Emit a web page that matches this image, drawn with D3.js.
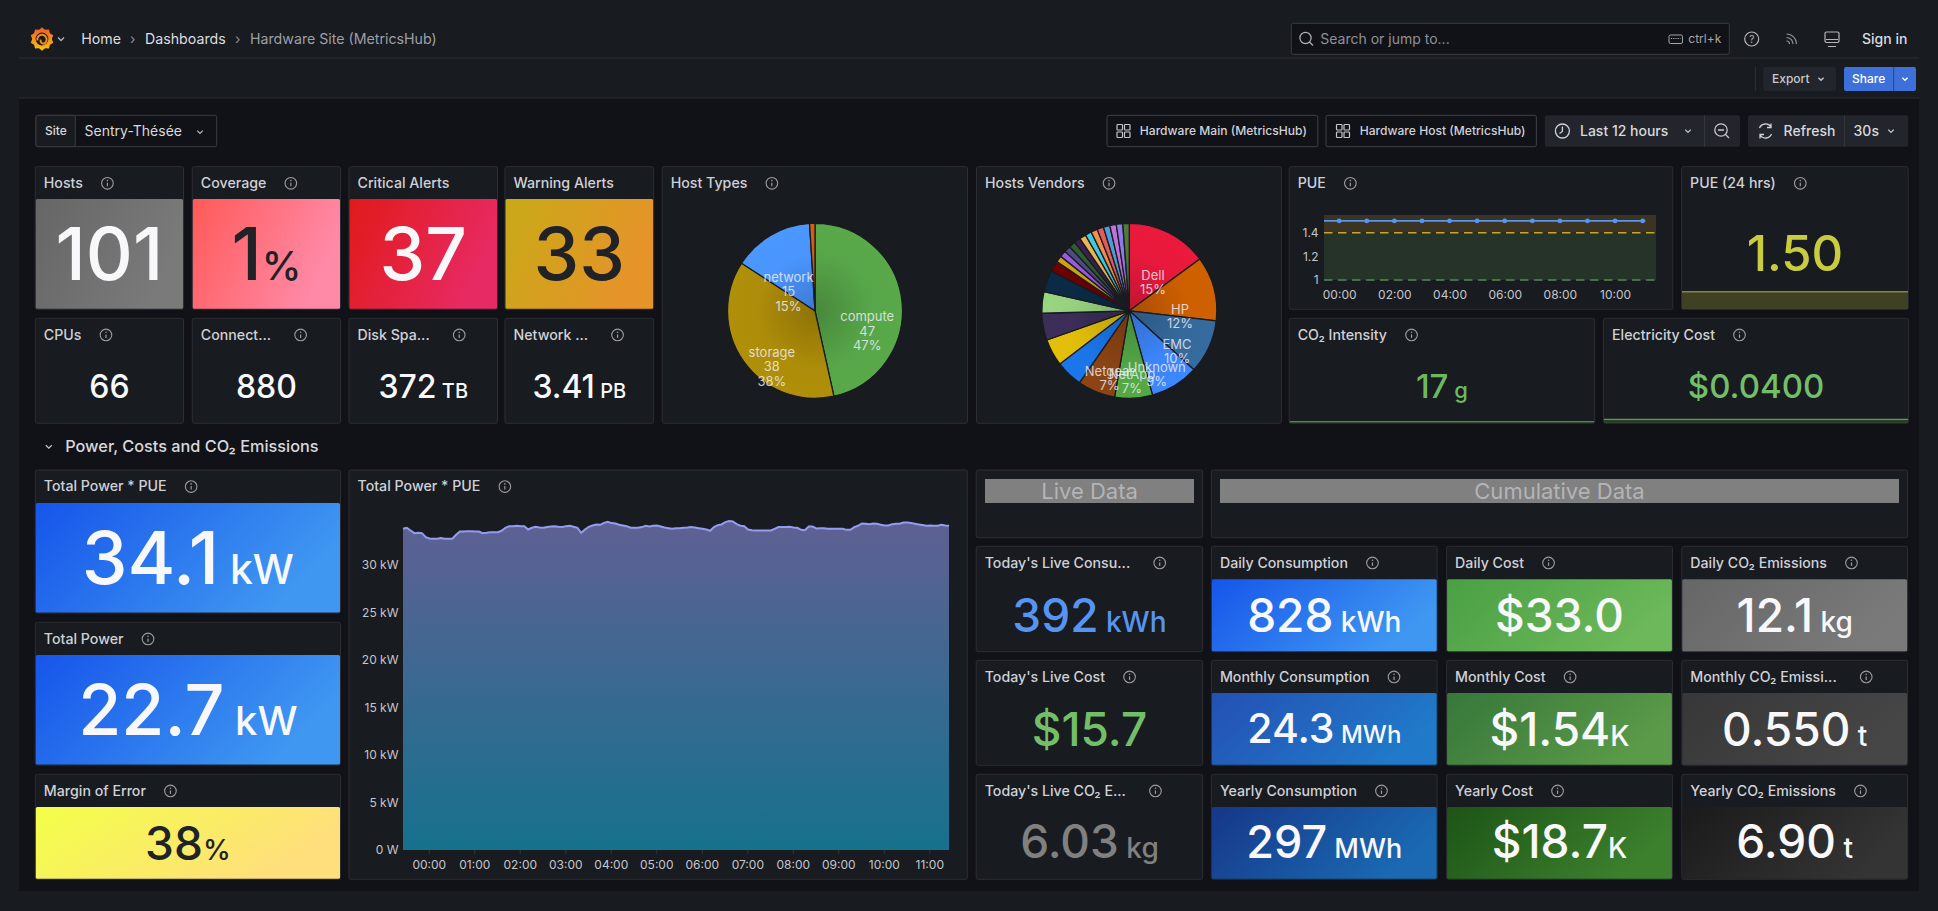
<!DOCTYPE html>
<html><head><meta charset="utf-8"><title>Hardware Site (MetricsHub)</title>
<script src="https://cdn.jsdelivr.net/npm/d3@7"></script>
<style>
html,body{margin:0;padding:0;background:#181b1f;overflow:hidden}
svg{display:block;font-family:Inter,"Noto Sans",sans-serif}
text{white-space:pre}
</style></head><body>
<div id="chart"></div>
<script>
// ---------- data ----------
const statTitles = ["Hosts","Coverage","Critical Alerts","Warning Alerts",
  "CPUs","Connect...","Disk Spa...","Network ...",
  "PUE (24 hrs)","CO₂ Intensity","Electricity Cost",
  "Total Power * PUE","Total Power","Margin of Error",
  "Today's Live Consu...","Today's Live Cost","Today's Live CO₂ E...",
  "Daily Consumption","Monthly Consumption","Yearly Consumption",
  "Daily Cost","Monthly Cost","Yearly Cost",
  "Daily CO₂ Emissions","Monthly CO₂ Emissi...","Yearly CO₂ Emissions"];
const titlesWithoutInfo = ["Critical Alerts","Warning Alerts"];
const statValues = ["101","1","37","33","66","880","372","3.41","1.50","17","$0.0400",
  "34.1","22.7","38","392","$15.7","6.03","828","24.3","297","$33.0","$1.54","$18.7","12.1","0.550","6.90"];
const statUnits = ["","%","","",""," "," TB"," PB",""," g","",
  " kW"," kW","%"," kWh",""," kg"," kWh"," MWh"," MWh","","K","K"," kg"," t"," t"];
const hostTypeNames = ["compute","storage","network"];
const hostTypeValues = [47,38,15,1];
const vendorNames = ["Dell","HP","EMC","Unknown","NetApp","Netgear"];
const vendorValues = [15,12,10,9,7,7,5,5,5,4,4,2,1.2,1.2,1.2,1.2,1.2,1.2,1.2,1.2,1.2,1.2,1.2,1.2,1.2];
const powerKw = [33.82,33.93,33.64,33.36,33.40,33.36,32.94,32.80,32.77,32.77,32.84,32.77,32.77,32.77,33.19,33.54,
  33.54,33.57,33.57,33.54,33.54,33.36,33.40,33.47,33.47,33.47,33.61,33.93,34.10,34.10,34.14,34.10,34.10,33.75,33.93,34.03,
  33.96,33.93,34.00,34.07,34.10,34.03,34.00,34.10,34.14,34.03,33.93,33.40,33.75,34.03,34.17,34.28,34.24,34.45,34.56,34.42,
  34.38,34.24,34.17,34.10,33.93,33.93,33.93,34.00,34.14,34.07,34.14,34.17,34.07,33.96,33.89,33.82,33.89,
  33.89,33.93,33.96,34.00,33.96,33.89,33.82,33.75,33.61,34.00,34.21,34.28,34.52,34.63,34.59,34.31,34.14,34.10,33.75,33.68,
  33.64,33.64,33.64,33.64,33.64,33.82,34.00,34.00,34.00,34.03,33.96,33.93,33.71,33.68,34.07,34.07,33.86,33.89,33.89,33.82,
  33.82,33.82,33.82,33.82,33.71,33.71,34.00,34.14,34.38,34.35,34.31,34.38,34.35,34.24,34.17,34.17,34.31,34.35,34.35,34.49,
  34.49,34.42,34.35,34.28,34.21,34.14,34.17,34.14,34.14,34.24,34.17,34.14];
const powerTicks = [0,5,10,15,20,25,30];
const pueValues = [1.5,1.5,1.5,1.5,1.5,1.5,1.5,1.5,1.5,1.5,1.5,1.5,1.5,1.5];
const pueMinutes = [-33,0,60,120,180,240,300,360,420,480,540,600,660,666];
const pueTicks = [1,1.2,1.4];
const pueThresholds = [1,1.4];
const pue24Spark = [1.5,1.5];
const co2Spark = [17,17,16.9,16.9];
const costSpark = [0.04,0.04];

// ---------- styles and layout (separate from the values) ----------
const W=1938,H=911;
const svg=d3.select("#chart").append("svg").attr("width",W).attr("height",H).attr("viewBox",[0,0,W,H]);
const defs=svg.append("defs");
const PANEL="#181b1f",BORDER="#2c2e33",TXT="#d0d1d8",MUTED="#9b9ca3";
const WHITE="#f8f8fa",DARK="#202226";
const GR={gray:["#666666","#7a7a7a"],cov:["#ff5a58","#ff8aa8"],crit:["#e11a1a","#e72a63"],warn:["#c8aa16","#e6932a"],
 blue:["#1655ea","#3f97f1"],yel:["#f3ff48","#ffde7c"],
 blue2:["#2450b4","#2079c9"],blue3:["#163788","#1a69b2"],
 grn:["#49a043","#6cb85a"],grn2:["#37773a","#5a9a48"],grn3:["#1c5416","#3c802d"],
 gr2:["#373737","#464646"],gr3:["#1a1a1a","#343434"]};
const R1=[166.7,309.3],R2=[318.3,423.3],B1=[470,613],B2=[622.3,765],B3=[774.3,879.3],C1=[546.3,651.7],C2=[660.3,765.3],C3=[774.3,879.3];
const X=[[35.3,183.5],[192.3,340.5],[349,497.5],[505,653.6]];
const LV=[976.2,1202.7],KW=[1211.4,1437.2],CS=[1446.6,1672.4],CO=[1681.8,1907.6],BL=[35.3,340.5];
const statLayout=[
 {x:X[0],y:R1,top:199,g:GR.gray,c:WHITE,s:73,u:40,b:280},
 {x:X[1],y:R1,top:199,g:GR.cov,c:DARK,s:73,u:40,b:280},
 {x:X[2],y:R1,top:199,g:GR.crit,c:WHITE,s:73,u:40,b:280},
 {x:X[3],y:R1,top:199,g:GR.warn,c:DARK,s:73,u:40,b:280},
 {x:X[0],y:R2,c:WHITE,s:32,u:20,b:398.3},
 {x:X[1],y:R2,c:WHITE,s:32,u:20,b:398.3},
 {x:X[2],y:R2,c:WHITE,s:32,u:20,b:398.3},
 {x:X[3],y:R2,c:WHITE,s:32,u:20,b:398.3},
 {x:[1681.6,1908.2],y:R1,c:"#c8cc3e",s:49,u:30,b:270.7},
 {x:[1289.2,1594.7],y:R2,c:"#6cb95f",s:33,u:22,b:397.7},
 {x:[1603.5,1908.6],y:R2,c:"#73bf69",s:33,u:22,b:397.7},
 {x:BL,y:B1,top:503,g:GR.blue,c:WHITE,s:73,u:41,b:584},
 {x:BL,y:B2,top:655,g:GR.blue,c:WHITE,s:70,u:40,b:735},
 {x:BL,y:B3,top:807,g:GR.yel,c:DARK,s:46,u:28,b:860},
 {x:LV,y:C1,c:"#5794f2",s:46,u:28,b:631.7},
 {x:LV,y:C2,c:"#73bf69",s:46,u:28,b:746},
 {x:LV,y:C3,c:"#808080",s:46,u:28,b:858.3},
 {x:KW,y:C1,top:579.3,g:GR.blue,c:WHITE,s:46,u:28,b:631.7},
 {x:KW,y:C2,top:693,g:GR.blue2,c:WHITE,s:41,u:24,b:742.7},
 {x:KW,y:C3,top:807,g:GR.blue3,c:WHITE,s:45,u:27,b:858.3},
 {x:CS,y:C1,top:579.3,g:GR.grn,c:WHITE,s:46,u:28,b:631.7},
 {x:CS,y:C2,top:693,g:GR.grn2,c:WHITE,s:46,u:28,b:746},
 {x:CS,y:C3,top:807,g:GR.grn3,c:WHITE,s:46,u:28,b:858.3},
 {x:CO,y:C1,top:579.3,g:GR.gray,c:WHITE,s:46,u:28,b:631.7},
 {x:CO,y:C2,top:693,g:GR.gr2,c:WHITE,s:46,u:28,b:746},
 {x:CO,y:C3,top:807,g:GR.gr3,c:WHITE,s:46,u:28,b:858.3}
];
function txt(p,x,y,s,o={}){return p.append("text").attr("x",x).attr("y",y-.7).text(s)
  .attr("font-size",o.size||14).attr("font-weight",o.weight||400).attr("fill",o.fill||TXT)
  .attr("text-anchor",o.anchor||"start").attr("dominant-baseline",o.base||"central");}
function panel(x,y,title){
  const g=svg.append("g");
  g.append("rect").attr("x",x[0]).attr("y",y[0]).attr("width",x[1]-x[0]).attr("height",y[1]-y[0]).attr("rx",2)
   .attr("fill",PANEL).attr("stroke",BORDER);
  if(title){const t=txt(g,x[0]+8.5,y[0]+16.6,title,{size:14.2,weight:500,fill:TXT});
    const e=t.node().getComputedTextLength();
    if(!titlesWithoutInfo.includes(title)) infoIcon(g,x[0]+8.5+e+(title.endsWith("...")?29.5:24.5),y[0]+16.6);}
  return g;
}
function infoIcon(g,cx,cy){
  g.append("circle").attr("cx",cx).attr("cy",cy).attr("r",5.8).attr("fill","none").attr("stroke",MUTED).attr("stroke-width",1.1);
  g.append("line").attr("x1",cx).attr("x2",cx).attr("y1",cy-0.5).attr("y2",cy+3).attr("stroke",MUTED).attr("stroke-width",1.2);
  g.append("circle").attr("cx",cx).attr("cy",cy-2.7).attr("r",.8).attr("fill",MUTED);
}
function chev(g,cx,cy,c="#b5b6bc",s=3){
  g.append("path").attr("d",`M${cx-s} ${cy-s/2}L${cx} ${cy+s/2}L${cx+s} ${cy-s/2}`).attr("fill","none").attr("stroke",c).attr("stroke-width",1.3);
}
function gridIcon(g,cx,cy){
  [[-6.5,-6.5],[1,-6.5],[-6.5,1],[1,1]].forEach(d=>g.append("rect").attr("x",cx+d[0]).attr("y",cy+d[1]).attr("width",5.5).attr("height",5.5).attr("rx",.8).attr("fill","none").attr("stroke","#c6c7cd").attr("stroke-width",1.2));
}

// ---------- page chrome ----------
svg.append("rect").attr("width",W).attr("height",H).attr("fill","#181b1f");
svg.append("rect").attr("x",19).attr("y",98).attr("width",1900).attr("height",793).attr("fill","#111217");
[58,98].forEach(y=>svg.append("line").attr("x1",19).attr("x2",1919).attr("y1",y).attr("y2",y).attr("stroke","#2b2d32"));
const bar=svg.append("g");
// logo
(function(){
  const lg=defs.append("linearGradient").attr("id","logo").attr("x1",0).attr("y1",0).attr("x2",0).attr("y2",1);
  lg.append("stop").attr("offset",0).attr("stop-color","#ee5a2a");lg.append("stop").attr("offset",1).attr("stop-color","#fbc60c");
  const g=bar.append("g").attr("transform","translate(42,39)");
  const pts=d3.range(20).map(i=>[i*Math.PI/10,i%2?9.8:11.8]);
  g.append("path").attr("d",d3.lineRadial().curve(d3.curveLinearClosed)(pts)).attr("fill","url(#logo)");
  g.append("circle").attr("r",6.4).attr("fill","#181b1f");
  g.append("path").attr("d","M-4.6 1.6A4.7 4.7 0 1 1 3.9 3A2.7 2.7 0 0 1-1.2 .6").attr("fill","none").attr("stroke","#f38a1c").attr("stroke-width",2);
})();
chev(bar,61,39);
txt(bar,81.2,39,"Home",{size:14.2,fill:"#dcdde2"});
txt(bar,132.6,39,"›",{anchor:"middle",fill:"#8e9097"});
txt(bar,145,39,"Dashboards",{size:14.2,fill:"#dcdde2"});
txt(bar,237.8,39,"›",{anchor:"middle",fill:"#8e9097"});
txt(bar,250,39,"Hardware Site (MetricsHub)",{size:14.2,fill:"#9ea0a7"});
bar.append("rect").attr("x",1291.3).attr("y",23.3).attr("width",438).attr("height",31).attr("rx",2).attr("fill","#111217").attr("stroke","#3a3c41");
bar.append("circle").attr("cx",1305.5).attr("cy",38).attr("r",5.6).attr("fill","none").attr("stroke","#b0b1b7").attr("stroke-width",1.2);
bar.append("line").attr("x1",1309.5).attr("y1",42).attr("x2",1313).attr("y2",45.5).attr("stroke","#b0b1b7").attr("stroke-width",1.2);
txt(bar,1320.3,39,"Search or jump to...",{fill:"#8f9198"});
bar.append("rect").attr("x",1669).attr("y",35).attr("width",13.5).attr("height",8.5).attr("rx",1.5).attr("fill","none").attr("stroke","#a5a6ac");
bar.append("line").attr("x1",1671).attr("x2",1680.5).attr("y1",38.5).attr("y2",38.5).attr("stroke","#a5a6ac").attr("stroke-dasharray","1.2 1");
txt(bar,1688.3,39,"ctrl+k",{size:12,fill:"#a5a6ac"});
bar.append("circle").attr("cx",1751.7).attr("cy",39).attr("r",7).attr("fill","none").attr("stroke","#b5b6bc").attr("stroke-width",1.2);
txt(bar,1751.7,39.5,"?",{size:10,anchor:"middle",fill:"#b5b6bc"});
[3,6.5,10].forEach(r=>bar.append("path").attr("d",`M1786.5 ${45-r}A${r} ${r} 0 0 1 ${1786.5+r} 45`).attr("fill","none").attr("stroke","#8f9096").attr("stroke-width",1.2).attr("transform","translate(0,-1)"));
bar.append("rect").attr("x",1825).attr("y",32).attr("width",14).attr("height",10.5).attr("rx",1.5).attr("fill","none").attr("stroke","#b5b6bc").attr("stroke-width",1.2);
bar.append("path").attr("d","M1828 46.5H1836M1826 39.5H1838").attr("stroke","#b5b6bc").attr("stroke-width",1.2);
txt(bar,1862,39,"Sign in",{weight:500,fill:"#dcdde2"});
bar.append("line").attr("x1",1755.4).attr("x2",1755.4).attr("y1",67).attr("y2",91).attr("stroke","#2f3136");
bar.append("rect").attr("x",1763.4).attr("y",67).attr("width",72.6).attr("height",24).attr("rx",2).attr("fill","#22252b");
txt(bar,1772,79,"Export",{size:12,weight:500,fill:"#c8c9cf"});chev(bar,1821,79,"#c8c9cf",2.6);
bar.append("rect").attr("x",1844).attr("y",67).attr("width",72).attr("height",24).attr("rx",2).attr("fill","#3d71d9");
bar.append("line").attr("x1",1893.7).attr("x2",1893.7).attr("y1",67).attr("y2",91).attr("stroke","#23458c");
txt(bar,1852,79,"Share",{size:12,weight:500,fill:"#fff"});chev(bar,1905,79,"#fff",2.6);
// variable row
const vr=svg.append("g");
vr.append("rect").attr("x",36).attr("y",115.3).attr("width",180.7).attr("height",31.4).attr("rx",2).attr("fill","#111217").attr("stroke","#3a3c41");
vr.append("rect").attr("x",36).attr("y",115.3).attr("width",39.3).attr("height",31.4).attr("rx",2).attr("fill","#181b1f").attr("stroke","#3a3c41");
txt(vr,45,131,"Site",{size:12,weight:500,fill:"#d8d9de"});
txt(vr,84.6,131,"Sentry-Thésée",{fill:"#d8d9de"});chev(vr,200,132,"#b5b6bc",2.8);
[[1107,210.8,1123.5,1139.8,"Hardware Main (MetricsHub)"],[1326,210.4,1343,1359.7,"Hardware Host (MetricsHub)"]].forEach(b=>{
  vr.append("rect").attr("x",b[0]).attr("y",115.3).attr("width",b[1]).attr("height",31.4).attr("rx",2).attr("fill","#111217").attr("stroke","#3f4146");
  gridIcon(vr,b[2],131);txt(vr,b[3],131,b[4],{size:12.1,weight:500,fill:"#d0d1d8"});
});
vr.append("rect").attr("x",1544.8).attr("y",115.3).attr("width",195.2).attr("height",31.4).attr("rx",2).attr("fill","#22252b");
vr.append("line").attr("x1",1704.5).attr("x2",1704.5).attr("y1",115.3).attr("y2",146.7).attr("stroke","#34363b");
vr.append("circle").attr("cx",1562.4).attr("cy",131).attr("r",7).attr("fill","none").attr("stroke","#d0d1d8").attr("stroke-width",1.3);
vr.append("path").attr("d","M1562.4 126.5V131.5L1559.5 133.5").attr("fill","none").attr("stroke","#d0d1d8").attr("stroke-width",1.3);
txt(vr,1580,131,"Last 12 hours",{weight:500,fill:"#d8d9de"});chev(vr,1688,131,"#c8c9cf",2.8);
vr.append("circle").attr("cx",1721).attr("cy",130).attr("r",6.2).attr("fill","none").attr("stroke","#c8c9cf").attr("stroke-width",1.3);
vr.append("path").attr("d","M1718 130H1724M1725.5 134.5L1729 138").attr("stroke","#c8c9cf").attr("stroke-width",1.3);
vr.append("rect").attr("x",1748).attr("y",115.3).attr("width",160.2).attr("height",31.4).attr("rx",2).attr("fill","#22252b");
vr.append("line").attr("x1",1844.4).attr("x2",1844.4).attr("y1",115.3).attr("y2",146.7).attr("stroke","#34363b");
vr.append("path").attr("d","M1759.5 128A6.5 6.5 0 0 1 1771 127M1771.5 134A6.5 6.5 0 0 1 1760 135M1771 123.5V127.5H1767M1760 138.5V134.5H1764").attr("fill","none").attr("stroke","#d0d1d8").attr("stroke-width",1.3);
txt(vr,1783.6,131,"Refresh",{weight:500,fill:"#d8d9de"});
txt(vr,1853.6,131,"30s",{weight:500,fill:"#d8d9de"});chev(vr,1891,131,"#c8c9cf",2.8);
// section row
chev(vr,48.8,446.7,"#c0c1c7",3);
txt(vr,65.2,446.7,"Power, Costs and CO₂ Emissions",{size:16.3,weight:500,fill:"#d8d9de"});

// ---------- stat panels ----------
statTitles.forEach((title,i)=>{
  const L=statLayout[i],g=panel(L.x,L.y,title);
  if(L.g){
    const id="sg"+i,lg=defs.append("linearGradient").attr("id",id).attr("x1",0).attr("y1",0).attr("x2",1).attr("y2",.35);
    lg.append("stop").attr("offset",0).attr("stop-color",L.g[0]);lg.append("stop").attr("offset",1).attr("stop-color",L.g[1]);
    g.append("rect").attr("x",L.x[0]+.5).attr("y",L.top).attr("width",L.x[1]-L.x[0]-1).attr("height",L.y[1]-L.top-.5).attr("rx",1.5).attr("fill",`url(#${id})`);
  }
  const t=g.append("text").attr("x",(L.x[0]+L.x[1])/2).attr("y",L.b).attr("text-anchor","middle").attr("font-weight",500).attr("fill",L.c);
  t.append("tspan").attr("font-size",L.s).text(statValues[i]);
  if(statUnits[i].trim()) t.append("tspan").attr("font-size",L.u).text(statUnits[i]);
});

// sparklines
function spark(vals,x,yLine,yBottom,line,fill){
  const sx=d3.scaleLinear().domain([0,vals.length-1]).range(x);
  const sy=d3.scaleLinear().domain([0,d3.max(vals)]).range([yBottom,yLine]);
  svg.append("path").attr("d",d3.area().x((d,i)=>sx(i)).y0(yBottom).y1(d=>sy(d))(vals)).attr("fill",fill);
  svg.append("path").attr("d",d3.line().x((d,i)=>sx(i)).y(d=>sy(d))(vals)).attr("fill","none").attr("stroke",line).attr("stroke-width",1.4);
}
spark(pue24Spark,[1682,1908],291.7,309,"#87872f","#3f4125");
spark(co2Spark,[1289.7,1594.2],421.6,423,"#4d8e48","#26362a");
spark(costSpark,[1604,1908],419.4,423,"#5f9b50","#2b3f29");

// ---------- pie panels ----------
function pieChart(title,box,center,values,names,colors,prefix,showCount){
  const g=panel(box,[166.7,423.3],title);
  const r=87.5,total=d3.sum(values);
  const arcs=d3.pie().sort(null).value(d=>d)(values);
  const arc=d3.arc().innerRadius(0).outerRadius(r);
  const lab=d3.arc().innerRadius(52.5).outerRadius(52.5);
  const pg=g.append("g").attr("transform",`translate(${center})`);
  arcs.forEach((a,i)=>{
    const id=prefix+i,c=colors[i],rg=defs.append("radialGradient").attr("id",id).attr("gradientUnits","userSpaceOnUse").attr("cx",0).attr("cy",0).attr("r",r);
    rg.append("stop").attr("offset",0).attr("stop-color",d3.color(c).darker(.55));
    rg.append("stop").attr("offset",.65).attr("stop-color",c);
    rg.append("stop").attr("offset",1).attr("stop-color",d3.color(c).brighter(.05));
    pg.append("path").attr("d",arc(a)).attr("fill",`url(#${id})`).attr("stroke",PANEL).attr("stroke-width",1.3);
  });
  arcs.forEach((a,i)=>{
    if(i>=names.length) return;
    const [cx,cy]=lab.centroid(a);
    const lines=showCount?[names[i],String(values[i]),d3.format(".0%")(values[i]/total)]:[names[i],d3.format(".0%")(values[i]/total)];
    lines.forEach((s,k)=>txt(pg,cx,cy+11.9+k*(showCount?14.5:14),s,{size:13,anchor:"middle",fill:"rgba(240,240,245,.82)"}));
  });
}
const hostTypeColors=["#57a649","#ad8c09","#4a95ff","#d85c0c"];
const vendorColors=["#e8193c","#cc5f00","#35699c","#3c85fb","#53a645","#8a4314","#1a75e8","#e0bc0a","#3b2d57","#96d27e","#0a2a45","#6b0000",
 "#c9a012","#9b57e0","#4d4a80","#2e5c2e","#3a1f4d","#e8b34f","#3cc8e0","#f08c4a","#e05a5a","#4f9bd0","#c06fd8","#8f7ae0","#4a7a3a"];
pieChart("Host Types",[662.2,967.5],[815,310.8],hostTypeValues,hostTypeNames,hostTypeColors,"ht",true);
pieChart("Hosts Vendors",[976.5,1281.4],[1129.3,310.8],vendorValues,vendorNames,vendorColors,"hv",false);

// ---------- PUE time series ----------
const t0=new Date(2024,0,2,0,0);
(function(){
  const g=panel([1289.2,1672.8],R1,"PUE");
  const x=d3.scaleTime().domain([d3.timeMinute.offset(t0,-33),d3.timeMinute.offset(t0,689)]).range([1324,1656]);
  const y=d3.scaleLinear().domain([1,1.55]).range([280,215]);
  g.append("rect").attr("x",1324).attr("width",332).attr("y",y(1.55)).attr("height",y(pueThresholds[1])-y(1.55)).attr("fill","#3b3422");
  g.append("rect").attr("x",1324).attr("width",332).attr("y",y(pueThresholds[1])).attr("height",y(pueThresholds[0])-y(pueThresholds[1])).attr("fill","#263328");
  [["#c9a52e",pueThresholds[1]],["#4e8f49",pueThresholds[0]]].forEach(d=>
    g.append("line").attr("x1",1324).attr("x2",1656).attr("y1",y(d[1])).attr("y2",y(d[1])).attr("stroke",d[0]).attr("stroke-width",1.5).attr("stroke-dasharray","8.5 5.5"));
  const pts=pueValues.map((v,i)=>({t:d3.timeMinute.offset(t0,pueMinutes[i]),v}));
  g.append("path").attr("d",d3.line().x(d=>x(d.t)).y(d=>y(d.v))(pts)).attr("fill","none").attr("stroke","#5794f2").attr("stroke-width",1.6);
  g.selectAll("circle.pt").data(pts.filter(d=>d.t.getMinutes()===0)).join("circle").attr("class","pt").attr("cx",d=>x(d.t)).attr("cy",d=>y(d.v)).attr("r",2.4).attr("fill","#5794f2");
  const ax=g.append("g").attr("transform","translate(0,280)").call(d3.axisBottom(x).ticks(d3.timeHour.every(2)).tickFormat(d3.timeFormat("%H:%M")).tickSize(0).tickPadding(10.5));
  const ay=g.append("g").attr("transform","translate(1324,0)").call(d3.axisLeft(y).tickValues(pueTicks).tickFormat(d3.format("~g")).tickSize(0).tickPadding(5.4));
  [ax,ay].forEach(a=>{a.select(".domain").remove();a.selectAll("text").attr("font-size",12).attr("font-family","Inter").attr("fill","#c5c6cc");});
})();

// ---------- Total power area chart ----------
(function(){
  const g=panel([349,967.3],[470,879.3],"Total Power * PUE");
  const start=d3.timeMinute.offset(t0,-34);
  const x=d3.scaleTime().domain([start,d3.timeMinute.offset(start,720)]).range([403,949]);
  const y=d3.scaleLinear().domain([0,35.8]).range([850,510]);
  const pts=powerKw.map((v,i)=>({t:d3.timeMinute.offset(start,i*720/(powerKw.length-1)),v}));
  const lg=defs.append("linearGradient").attr("id","pw").attr("gradientUnits","userSpaceOnUse").attr("x1",0).attr("x2",0).attr("y1",520).attr("y2",850);
  lg.append("stop").attr("offset",0).attr("stop-color","#5f6094");lg.append("stop").attr("offset",1).attr("stop-color","#16718d");
  g.append("path").attr("d",d3.area().x(d=>x(d.t)).y0(y(0)).y1(d=>y(d.v))(pts)).attr("fill","url(#pw)");
  g.append("path").attr("d",d3.line().x(d=>x(d.t)).y(d=>y(d.v))(pts)).attr("fill","none").attr("stroke","#949cf2").attr("stroke-width",2);
  const ax=g.append("g").attr("transform","translate(0,850)").call(d3.axisBottom(x).ticks(d3.timeHour.every(1)).tickFormat(d3.timeFormat("%H:%M")).tickSize(4).tickPadding(6));
  const ay=g.append("g").attr("transform","translate(403,0)").call(d3.axisLeft(y).tickValues(powerTicks).tickFormat(d=>d===0?"0 W":d+" kW").tickSize(0).tickPadding(4.5));
  [ax,ay].forEach(a=>{a.select(".domain").remove();a.selectAll("text").attr("font-size",12).attr("font-family","Inter").attr("fill","#c5c6cc");a.selectAll("line").attr("stroke","#33363b");});
})();

// ---------- header panels ----------
[[LV,"Live Data",[985,1194]],[[1211.4,1907.6],"Cumulative Data",[1220,1899]]].forEach(d=>{
  const g=panel(d[0],[470,537.7],null);
  g.append("rect").attr("x",d[2][0]).attr("y",479).attr("width",d[2][1]-d[2][0]).attr("height",24).attr("fill","#808080");
  txt(g,(d[2][0]+d[2][1])/2,491.5,d[1],{size:22,anchor:"middle",fill:"#b4b4b6"});
});
</script></body></html>
